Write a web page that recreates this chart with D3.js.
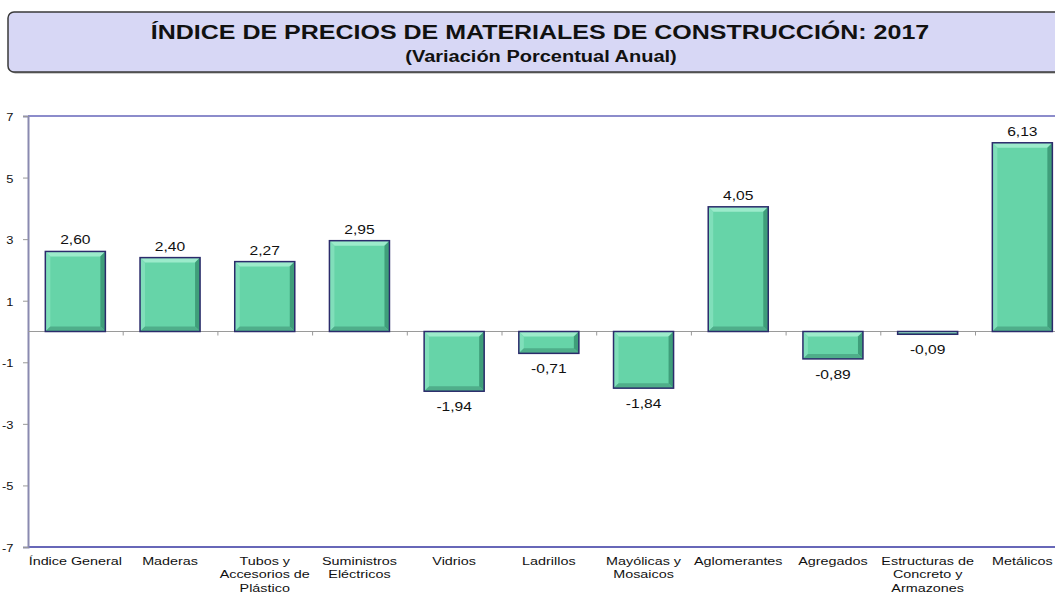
<!DOCTYPE html>
<html><head><meta charset="utf-8">
<script src="https://cdn.jsdelivr.net/npm/d3@7"></script>
<style>html,body{margin:0;padding:0;background:#fff;overflow:hidden}</style>
</head><body>
<svg id="chart" width="1055" height="594"></svg>
<script>
const categories = ["Índice General","Maderas","Tubos y Accesorios de Plástico","Suministros Eléctricos","Vidrios","Ladrillos","Mayólicas y Mosaicos","Aglomerantes","Agregados","Estructuras de Concreto y Armazones","Metálicos"];
const categoryLines = [["Índice General"],["Maderas"],["Tubos y","Accesorios de","Plástico"],["Suministros","Eléctricos"],["Vidrios"],["Ladrillos"],["Mayólicas y","Mosaicos"],["Aglomerantes"],["Agregados"],["Estructuras de","Concreto y","Armazones"],["Metálicos"]];
const values = [2.60,2.40,2.27,2.95,-1.94,-0.71,-1.84,4.05,-0.89,-0.09,6.13];
const yTicks = [-7,-5,-3,-1,1,3,5,7];
const titleText = "ÍNDICE DE PRECIOS DE MATERIALES DE CONSTRUCCIÓN: 2017";
const subtitleText = "(Variación Porcentual Anual)";

const SX = 1.25; // horizontal text stretch
const svg = d3.select("#chart");
const font = "Arial, 'Liberation Sans', sans-serif";

// title box
svg.append("rect").attr("x",9.5).attr("y",13.5).attr("width",1070).attr("height",60).attr("rx",6)
  .attr("fill","#9a9a9a");
svg.append("rect").attr("x",8).attr("y",12).attr("width",1070).attr("height",60).attr("rx",6)
  .attr("fill","#D7D7F5").attr("stroke","#3a3a3a").attr("stroke-width",1.5);
svg.append("text").attr("transform",`translate(540,39) scale(${SX},1)`).attr("text-anchor","middle")
  .attr("font-family",font).attr("font-weight","bold").attr("font-size",20).attr("fill","#111").text(titleText);
svg.append("text").attr("transform",`translate(541,62) scale(${SX},1)`).attr("text-anchor","middle")
  .attr("font-family",font).attr("font-weight","bold").attr("font-size",16).attr("fill","#111").text(subtitleText);

const left = 28, step = 94.7;
const x = d3.scaleBand().domain(categories).range([left, left + step*categories.length])
  .paddingInner(0.366).paddingOuter(0.183);
const y = d3.scaleLinear().domain([-7,7]).range([547,116]);

// top border
svg.append("line").attr("x1",left).attr("x2",1080).attr("y1",y(7)).attr("y2",y(7)).attr("stroke","#8C8CCB").attr("stroke-width",2);
// bottom border
svg.append("line").attr("x1",left).attr("x2",1080).attr("y1",y(-7)).attr("y2",y(-7)).attr("stroke","#3535A0").attr("stroke-width",1.5);

// y axis
const yAxis = d3.axisLeft(y).tickValues(yTicks).tickSize(5).tickFormat(d=>d);
const gy = svg.append("g").attr("transform",`translate(${left},0)`).call(yAxis);
gy.select(".domain").attr("stroke","#8A8AB0").attr("stroke-width",2);
gy.selectAll(".tick line").attr("stroke","#999");
gy.selectAll(".tick text").attr("font-family",font).attr("font-size",11.5).attr("fill","#111")
  .attr("x",null).attr("dy",null)
  .attr("transform",`translate(-14.5,4.5) scale(1.12,1)`).attr("text-anchor","end");

// zero line + category boundary ticks
const gap = x.step() - x.bandwidth();
svg.append("line").attr("x1",left).attr("x2",1080).attr("y1",y(0)).attr("y2",y(0)).attr("stroke","#9a9a9a").attr("stroke-width",1.2);
svg.append("g").selectAll("line").data(categories.slice(1)).join("line")
  .attr("x1",d=>x(d)-gap/2+0.5).attr("x2",d=>x(d)-gap/2+0.5)
  .attr("y1",y(0)).attr("y2",y(0)+4).attr("stroke","#999");

// bars with bevel
const b = 5;
const bars = svg.append("g").selectAll("g").data(values).join("g");
bars.each(function(v,i){
  const g = d3.select(this);
  const x0 = x(categories[i]), x1 = x0 + x.bandwidth();
  const ya = Math.min(y(v), y(0)), yb = Math.max(y(v), y(0));
  const h = yb - ya;
  const bb = Math.min(b, h/2, x.bandwidth()/2);
  g.append("rect").attr("x",x0).attr("y",ya).attr("width",x1-x0).attr("height",h).attr("fill","#66D4A8");
  const poly = pts => g.append("polygon").attr("points",pts.map(p=>p.join(",")).join(" "));
  poly([[x0,ya],[x1,ya],[x1-bb,ya+bb],[x0+bb,ya+bb]]).attr("fill","#9CEBCB");
  poly([[x0,ya],[x0+bb,ya+bb],[x0+bb,yb-bb],[x0,yb]]).attr("fill","#80DFBA");
  poly([[x1,ya],[x1,yb],[x1-bb,yb-bb],[x1-bb,ya+bb]]).attr("fill","#3F9E7A");
  poly([[x0,yb],[x0+bb,yb-bb],[x1-bb,yb-bb],[x1,yb]]).attr("fill","#4FAE8A");
  g.append("rect").attr("x",x0).attr("y",ya).attr("width",x1-x0).attr("height",h)
    .attr("fill","none").attr("stroke","#2B2B6B").attr("stroke-width",1.5);
});

// value labels
svg.append("g").selectAll("text").data(values).join("text")
  .attr("transform",(v,i)=>{
    const cx = x(categories[i]) + x.bandwidth()/2;
    const ty = v >= 0 ? y(v) - 7 : y(v) + 20;
    return `translate(${cx},${ty}) scale(${SX},1)`;
  })
  .attr("text-anchor","middle").attr("font-family",font).attr("font-size",12.5).attr("fill","#111")
  .text(v=>v.toFixed(2).replace(".",","));

// category labels
const cg = svg.append("g").selectAll("g").data(categories).join("g")
  .attr("transform",d=>`translate(${x(d)+x.bandwidth()/2},565) scale(${SX},1)`);
cg.each(function(d,i){
  d3.select(this).selectAll("text").data(categoryLines[i]).join("text")
    .attr("y",(t,j)=>j*13.5).attr("text-anchor","middle")
    .attr("font-family",font).attr("font-size",11.5).attr("fill","#111").text(t=>t);
});
</script>
</body></html>
